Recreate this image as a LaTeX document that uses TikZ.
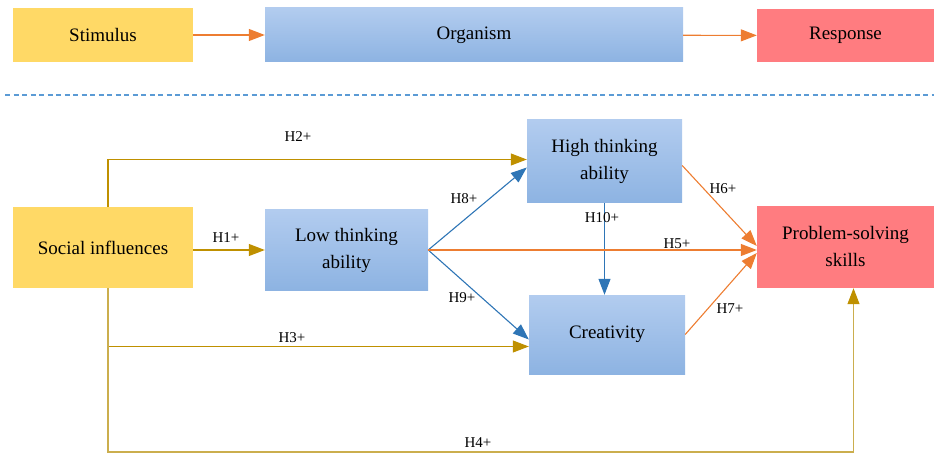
\documentclass[tikz,border=0pt]{standalone}
\usepackage{fontspec}
\setmainfont{Liberation Serif}
\usetikzlibrary{arrows.meta}

\definecolor{boxyellow}{HTML}{FFD966}
\definecolor{boxred}{HTML}{FF7C80}
\definecolor{bluetop}{HTML}{B2CCEF}
\definecolor{bluebot}{HTML}{8DB3E2}
\definecolor{gold}{HTML}{BF9000}
\definecolor{goldlight}{HTML}{CBAE4E}
\definecolor{orangeln}{HTML}{ED7D31}
\definecolor{blueln}{HTML}{2E75B6}
\definecolor{dashblue}{HTML}{5B9BD5}

\begin{document}
\begin{tikzpicture}[x=1pt,y=-1pt,
    box/.style={inner sep=2pt,align=center,font=\fontsize{19}{27}\selectfont},
    yellowbox/.style={box,fill=boxyellow},
    bluebox/.style={box,top color=bluetop,bottom color=bluebot},
    redbox/.style={box,fill=boxred},
    lab/.style={font=\fontsize{15}{17}\selectfont,inner sep=1pt},
    tip/.style={-{Triangle[length=16pt,width=12pt]}},
    goldarr/.style={tip,draw=gold,line width=1.1pt},
    bluearr/.style={tip,draw=blueln,line width=1.1pt},
    orangearr/.style={tip,draw=orangeln,line width=1.1pt}]
            \useasboundingbox (0,0) rectangle (934,457);

            % stimulus - organism - response
            \node[yellowbox,minimum width=180pt,minimum height=54pt] (st) at (103,35) {Stimulus};
            \node[bluebox,minimum width=418pt,minimum height=54pt] (org) at (474,35) {Organism};
            \node[redbox,minimum width=177pt,minimum height=53pt] (re) at (845.5,35.5) {Response};
            \draw[orangearr] (st) -- (org);
            \draw[orangearr] (org) -- (re);

            % separator
            \coordinate (dl) at (5,95);
            \coordinate (dr) at (934,95);
            \draw[dashblue,line width=1.5pt,dash pattern=on 5pt off 3.5pt] (dl) -- (dr);

            % model
            \node[yellowbox,minimum width=180pt,minimum height=81pt] (si) at (103,247.5) {Social influences};
            \node[bluebox,minimum width=163pt,minimum height=80pt] (lt) at (346.5,250) {Low thinking\\ability};
            \node[bluebox,minimum width=155pt,minimum height=83pt] (ht) at (604.5,161.5) {High thinking\\ability};
            \node[bluebox,minimum width=156pt,minimum height=79pt] (cr) at (607,334.5) {Creativity};
            \node[redbox,minimum width=177pt,minimum height=82pt] (ps) at (845.5,247) {Problem-solving\\skills};
            \coordinate (bot) at (480,452);

            \draw[goldarr] (si.east |- lt.west) -- (lt.west);
            \draw[goldarr] ([xshift=5pt]si.north) |- ([yshift=2pt]ht.west);
            \draw[goldarr] ([xshift=5pt]si.south) |- ([yshift=-12pt]cr.west);
            \draw[-{Triangle[length=16pt,width=12pt,color=gold]},draw=goldlight,line width=1.1pt]
                ([xshift=5pt]si.south) |- (bot) -| ([xshift=8pt]ps.south);

            \draw[bluearr] (lt.east) -- ([yshift=-6pt]ht.west);
            \draw[bluearr] (lt.east) -- ([yshift=-5pt]cr.west);
            \draw[bluearr] (ht.south) -- (ht.south |- cr.north);

            \draw[orangearr] (lt.east) -- (lt.east -| ps.west);
            \draw[orangearr] ([yshift=-4pt]ht.east) -- ([yshift=1pt]ps.west);
            \draw[orangearr] (cr.east) -- ([yshift=-6pt]ps.west);

            % hypotheses
            \node[lab] (h1) at (226,238) {H1+};
            \node[lab] (h2) at (298,137) {H2+};
            \node[lab] (h3) at (292,338) {H3+};
            \node[lab] (h4) at (478,443) {H4+};
            \node[lab] (h5) at (677,244) {H5+};
            \node[lab] (h6) at (723,189) {H6+};
            \node[lab] (h7) at (730,309) {H7+};
            \node[lab] (h8) at (464,199) {H8+};
            \node[lab] (h9) at (462,298) {H9+};
            \node[lab] (h10) at (602,218) {H10+};
        \end{tikzpicture}
\end{document}
